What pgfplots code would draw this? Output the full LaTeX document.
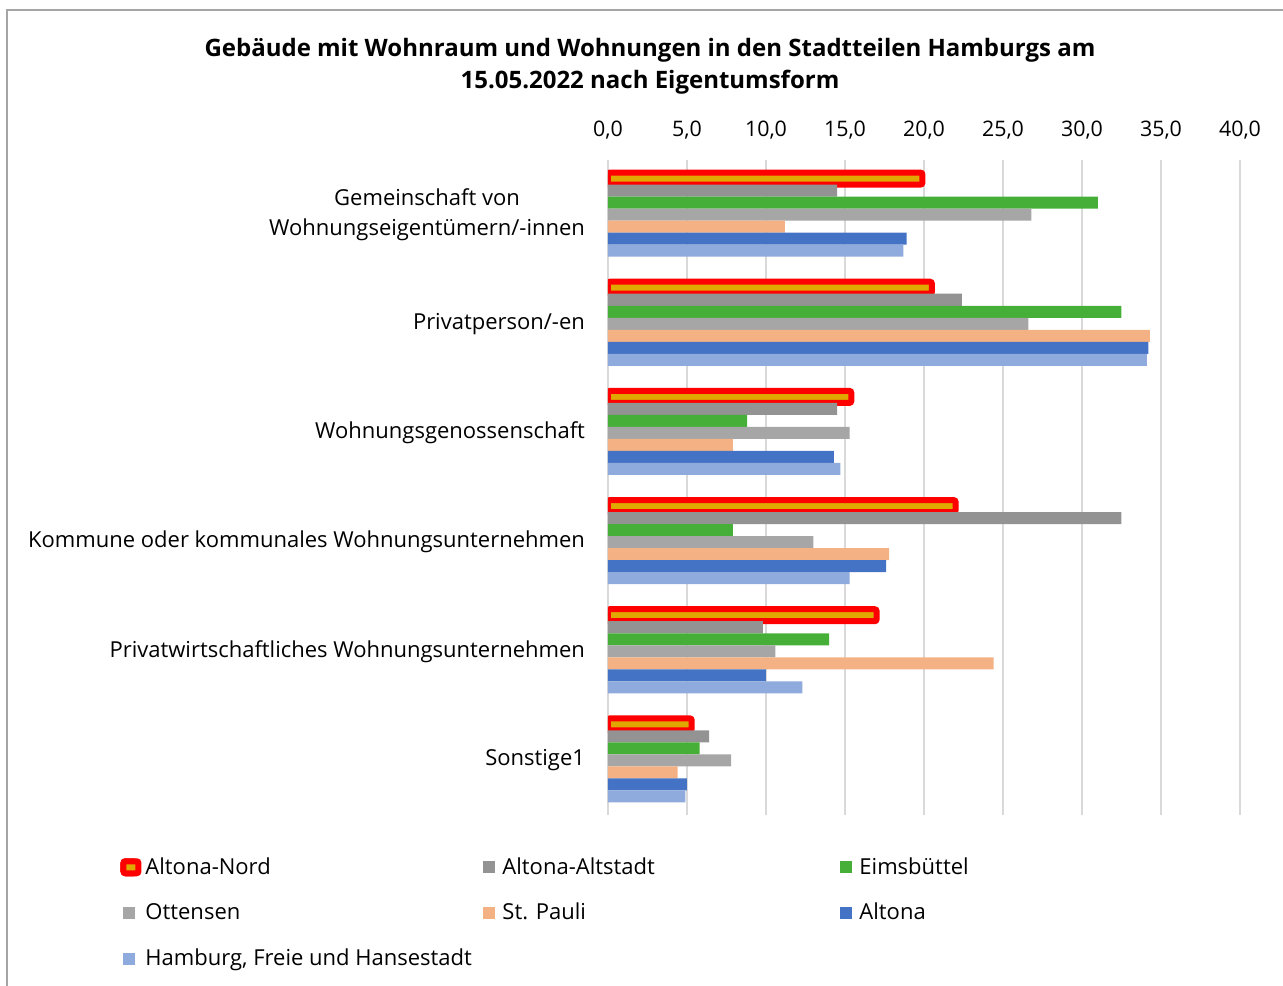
\documentclass[border=0pt]{standalone}
\usepackage{pgfplots}
\usepackage{pgfplotstable}
\usepackage{fontspec}
\setmainfont{Open Sans}
\pgfplotsset{compat=1.18}

\definecolor{cNord}{RGB}{224,168,0}
\definecolor{cAltstadt}{RGB}{147,147,147}
\definecolor{cEims}{RGB}{70,175,55}
\definecolor{cOtt}{RGB}{166,166,166}
\definecolor{cPauli}{RGB}{244,177,131}
\definecolor{cAltona}{RGB}{68,114,196}
\definecolor{cHH}{RGB}{143,170,220}
\definecolor{cGrid}{RGB}{217,217,217}
\definecolor{cFrame}{RGB}{165,165,165}

% idx: 0 Gemeinschaft, 1 Privatperson, 2 Genossenschaft, 3 Kommune, 4 Privatwirtschaft, 5 Sonstige
\pgfplotstableread{
idx Nord  Altstadt Eims Ott  Pauli Altona HH
0   19.9  14.5     31.0 26.8 11.2  18.9   18.7
1   20.5  22.4     32.5 26.6 34.3  34.2   34.1
2   15.4  14.5     8.8  15.3 7.9   14.3   14.7
3   22.0  32.5     7.9  13.0 17.8  17.6   15.3
4   17.0  9.8      14.0 10.6 24.4  10.0   12.3
5   5.3   6.4      5.8  7.8  4.4   5.0    4.9
}\datatable

\begin{document}
\begin{tikzpicture}
\path[use as bounding box] (-304pt,-85pt) rectangle (337.5pt,407.5pt);
\draw[cFrame, line width=0.8pt] (-300.5pt,-90pt) -- (-300.5pt,402.5pt) -- (345pt,402.5pt);
\begin{axis}[
  at={(0,0)}, anchor=south west,
  scale only axis,
  width=316pt, height=327.5pt,
  xbar, bar width=0.11,
  xmin=0, xmax=40,
  ymin=-0.5, ymax=5.5,
  y dir=reverse,
  xtick={0,5,...,40},
  ytick={0,1,2,3,4,5},
  yticklabels={{Gemeinschaft von\\Wohnungseigentümern/-innen},
    Privatperson/-en, Wohnungsgenossenschaft,
    Kommune oder kommunales Wohnungsunternehmen,
    Privatwirtschaftliches Wohnungsunternehmen, Sonstige1},
  xticklabel pos=upper,
  major tick length=0pt,
  axis line style={draw=none},
  xmajorgrids,
  major grid style={draw=cGrid, line width=0.8pt},
  /pgf/number format/assume math mode=true,
  xticklabel={\pgfmathprintnumber[fixed, fixed zerofill, precision=1, use comma]{\tick}},
  xticklabel style={font=\fontsize{10.7}{12}\selectfont, yshift=7pt},
  yticklabel style={font=\fontsize{11}{15}\selectfont, align=center, xshift=-8pt},
  legend columns=3,
  legend cell align=left,
  legend style={draw=none, fill=none, font=\fontsize{11}{12}\selectfont,
    at={(axis description cs:-0.772,-0.058)}, anchor=north west,
    row sep=9pt, inner sep=0pt},
  legend image code/.code={\fill[#1, draw=none] (0pt,-3pt) rectangle (6pt,3pt); \path (7.5pt,0pt);},
]
\addplot[fill=cNord, draw=red, line width=3pt, rounded corners=1pt, bar shift=-0.33,
  legend image code/.code={\draw[overlay, fill=cNord, draw=red, line width=3pt, rounded corners=1pt] (0pt,-3pt) rectangle (6pt,3pt); \path (0pt,-3pt) rectangle (7.5pt,3pt);}]
  table[x=Nord, y=idx] {\datatable};
\addlegendentry{\makebox[167pt][l]{Altona-Nord}}
\addplot[fill=cAltstadt, draw=none, bar shift=-0.22] table[x=Altstadt, y=idx] {\datatable};
\addlegendentry{\makebox[167pt][l]{Altona-Altstadt}}
\addplot[fill=cEims, draw=none, bar shift=-0.11] table[x=Eims, y=idx] {\datatable};
\addlegendentry{\makebox[167pt][l]{Eimsbüttel}}
\addplot[fill=cOtt, draw=none, bar shift=0] table[x=Ott, y=idx] {\datatable};
\addlegendentry{\makebox[167pt][l]{Ottensen}}
\addplot[fill=cPauli, draw=none, bar shift=0.11] table[x=Pauli, y=idx] {\datatable};
\addlegendentry{\makebox[167pt][l]{St. Pauli}}
\addplot[fill=cAltona, draw=none, bar shift=0.22] table[x=Altona, y=idx] {\datatable};
\addlegendentry{\makebox[167pt][l]{Altona}}
\addplot[fill=cHH, draw=none, bar shift=0.33] table[x=HH, y=idx] {\datatable};
\addlegendentry{\makebox[167pt][l]{Hamburg, Freie und Hansestadt}}
\end{axis}
\node[align=center, font=\bfseries\fontsize{12}{16}\selectfont] at (21pt,374.5pt)
  {Gebäude mit Wohnraum und Wohnungen in den Stadtteilen Hamburgs am\\15.05.2022 nach Eigentumsform};
\end{tikzpicture}
\end{document}
